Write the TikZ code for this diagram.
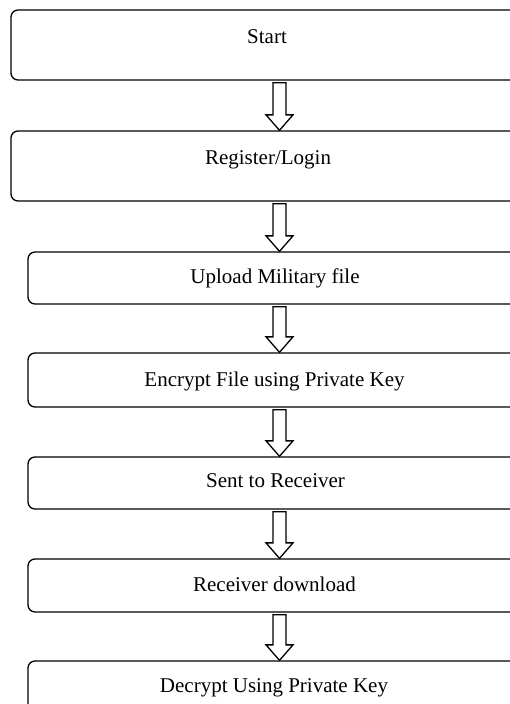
\documentclass[tikz,border=0pt]{standalone}
\usepackage{fontspec}
\setmainfont{Liberation Serif}
\usetikzlibrary{calc}
\begin{document}
\begin{tikzpicture}[x=1pt,y=-1pt]
\tikzset{
 stepbox/.style={draw=black, line width=1.3pt, rounded corners=7pt, inner sep=0pt, rectangle},
 widebox/.style={stepbox, minimum width=514pt},
 narrowbox/.style={stepbox, minimum width=494pt},
 lbl/.style={anchor=base, font=\fontsize{21}{24}\selectfont, inner sep=0pt},
 blockarrow/.style={draw=black, line width=1.3pt, fill=white, line join=miter}
}
\newcommand\flowarrow[2]{%
 \draw[blockarrow] let \p1=(#1.south), \p2=(#2.north) in
  (273pt,\y1-2pt) -- (273pt,\y2+15.5pt) -- (266pt,\y2+15.5pt) -- (279.5pt,\y2)
  -- (293pt,\y2+15.5pt) -- (286pt,\y2+15.5pt) -- (286pt,\y1-2pt) -- cycle;}
\useasboundingbox (0,0) rectangle (510,704);
\clip (0,0) rectangle (510,704);
\node[widebox, minimum height=70pt] (b1) at (268,45) {};
\node[widebox, minimum height=70pt] (b2) at (268,166) {};
\node[narrowbox, minimum height=52pt] (b3) at (275,278) {};
\node[narrowbox, minimum height=54pt] (b4) at (275,380) {};
\node[narrowbox, minimum height=52pt] (b5) at (275,483) {};
\node[narrowbox, minimum height=53pt] (b6) at (275,585.5) {};
\node[narrowbox, minimum height=53pt] (b7) at (275,687.5) {};
\node[lbl] (t1) at (267,43) {Start};
\node[lbl] (t2) at (268,164) {Register/Login};
\node[lbl] (t3) at (275,283) {Upload Military file};
\node[lbl] (t4) at (274.5,386) {Encrypt File using Private Key};
\node[lbl] (t5) at (275.5,487) {Sent to Receiver};
\node[lbl] (t6) at (274.5,591) {Receiver download};
\node[lbl] (t7) at (274,692) {Decrypt Using Private Key};
\flowarrow{b1}{b2}
\flowarrow{b2}{b3}
\flowarrow{b3}{b4}
\flowarrow{b4}{b5}
\flowarrow{b5}{b6}
\flowarrow{b6}{b7}
\end{tikzpicture}
\end{document}
